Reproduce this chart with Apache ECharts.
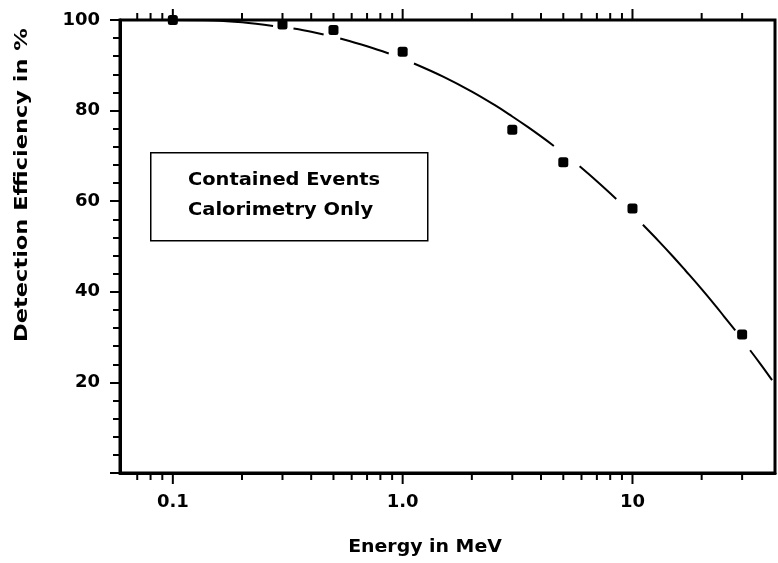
<!DOCTYPE html>
<html><head><meta charset="utf-8">
<script src="https://cdn.jsdelivr.net/npm/echarts@6/dist/echarts.min.js"></script>
<style>html,body{margin:0;padding:0;background:#fff}#c{width:778px;height:563px}</style>
</head><body><div id="c"></div>
<script>
// measured data points
const energyMeV = [0.1, 0.3, 0.5, 1.0, 3, 5, 10, 30];
const efficiency = [100, 99, 97.8, 93, 75.8, 68.6, 58.4, 30.6];

// fitted curve, drawn as broken segments (as in the original)
const curveSeg1 = [[0.1, 100], [0.15, 99.9], [0.2, 99.5], [0.273, 98.7]];
const curveSeg2 = [[0.335, 98.1], [0.4, 97.4], [0.453, 96.8]];
const curveSeg3 = [[0.535, 95.9], [0.7, 94.2], [0.87, 92.6]];
const curveSeg4 = [[1.12, 90.4], [1.5, 87.5], [2, 84.2], [2.5, 81.3], [3, 78.7], [3.5, 76.4], [4, 74.3], [4.55, 72.2]];
const curveSeg5 = [[5.89, 67.7], [7, 64.4], [8.5, 60.5]];
const curveSeg6 = [[11.1, 54.8], [13, 51.2], [15, 47.8], [17, 44.7], [20, 40.6], [23, 36.9], [25, 34.6], [28, 31.5]];
const curveSeg7 = [[32.5, 27.1], [36, 24.1], [40.5, 20.5]];
const curveSegments = [curveSeg1, curveSeg2, curveSeg3, curveSeg4, curveSeg5, curveSeg6, curveSeg7];

// axes
const xMin = 0.0589, xMax = 41.7;
const xTickValues = [0.07, 0.08, 0.09, 0.1, 0.2, 0.3, 0.4, 0.5, 0.6, 0.7, 0.8, 0.9, 1,
  2, 3, 4, 5, 6, 7, 8, 9, 10, 20, 30];
const xLabelValues = [0.1, 1, 10];
const xLabelTexts = ['0.1', '1.0', '10'];
const yLabelValues = [20, 40, 60, 80, 100];
const yLabelTexts = ['20', '40', '60', '80', '100'];

const legendLines = ['Contained Events', 'Calorimetry Only'];
const xTitle = 'Energy in MeV';
const yTitle = 'Detection Efficiency in %';

const FONT = 'DejaVu Sans';
const chart = echarts.init(document.getElementById('c'), null, {renderer: 'canvas'});

function isDecade(v) {
  const l = Math.log10(v);
  return Math.abs(l - Math.round(l)) < 1e-9;
}

const series = [];
curveSegments.forEach(seg => {
  series.push({
    type: 'line', data: seg, smooth: 0.4, showSymbol: false, symbol: 'none',
    lineStyle: {color: '#000', width: 2}, z: 3, silent: true, animation: false
  });
});
series.push({
  type: 'scatter',
  data: energyMeV.map((e, i) => [e, efficiency[i]]),
  symbol: 'roundRect', symbolSize: 10,
  itemStyle: {color: '#000', opacity: 1}, z: 5, animation: false
});
series.push({
  type: 'custom',
  data: xTickValues.map(v => [v, 0]),
  encode: {x: 0, y: 1},
  clip: false, z: 6, silent: true, animation: false,
  renderItem: function (params, api) {
    const v = api.value(0);
    const bot = api.coord([v, 0]);
    const top = api.coord([v, 100]);
    const len = isDecade(v) ? 11 : 7;
    const st = {stroke: '#000', lineWidth: 2};
    return {
      type: 'group',
      children: [
        {type: 'line', shape: {x1: bot[0], y1: bot[1], x2: bot[0], y2: bot[1] + len}, style: st},
        {type: 'line', shape: {x1: top[0], y1: top[1], x2: top[0], y2: top[1] - len}, style: st}
      ]
    };
  }
});

function txt(x, y, text, sx, rot, align) {
  return {
    type: 'text', x: x, y: y, scaleX: sx, rotation: rot || 0, z: 11,
    style: {text: text, fontFamily: FONT, fontSize: 18, fontWeight: 'bold', fill: '#000',
      align: align || 'center', textAlign: align || 'center',
      verticalAlign: 'middle', textVerticalAlign: 'middle'}
  };
}

chart.setOption({
  animation: false,
  backgroundColor: '#fff',
  grid: {left: 120, right: 3, top: 20, bottom: 90, show: true, borderColor: '#000', borderWidth: 3, backgroundColor: 'transparent'},
  xAxis: {
    type: 'log', logBase: 10, min: xMin, max: xMax,
    axisLine: {show: true, lineStyle: {color: '#000', width: 3}},
    axisTick: {show: false},
    minorTick: {show: false},
    splitLine: {show: false},
    axisLabel: {
      fontFamily: FONT, fontSize: 18, fontWeight: 'bold', color: '#000', margin: 20,
      showMinLabel: false, showMaxLabel: false,
      formatter: function (v) {
        for (let i = 0; i < xLabelValues.length; i++) {
          if (Math.abs(v - xLabelValues[i]) < 1e-6 * xLabelValues[i]) return xLabelTexts[i];
        }
        return '';
      }
    }
  },
  yAxis: {
    type: 'value', min: 0, max: 100, interval: 20,
    axisLine: {show: true, lineStyle: {color: '#000', width: 3}},
    axisTick: {show: true, inside: false, length: 10, lineStyle: {color: '#000', width: 2}},
    minorTick: {show: true, splitNumber: 5, length: 7, lineStyle: {color: '#000', width: 2}},
    splitLine: {show: false},
    axisLabel: {
      fontFamily: FONT, fontSize: 18, fontWeight: 'bold', color: '#000', margin: 20, padding: [5, 0, 0, 0],
      formatter: function (v) {
        const i = yLabelValues.indexOf(v);
        return i >= 0 ? yLabelTexts[i] : '';
      }
    }
  },
  graphic: [
    {type: 'rect', left: 150, top: 152, z: 10,
      shape: {width: 277, height: 88},
      style: {fill: '#fff', stroke: '#000', lineWidth: 1.5}},
    txt(188, 180, legendLines[0], 1.08, 0, 'left'),
    txt(188, 210, legendLines[1], 1.08, 0, 'left'),
    txt(425, 547, xTitle, 1.05, 0, 'center'),
    txt(22, 185, yTitle, 1.25, Math.PI / 2, 'center')
  ],
  series: series
});
</script>
</body></html>
